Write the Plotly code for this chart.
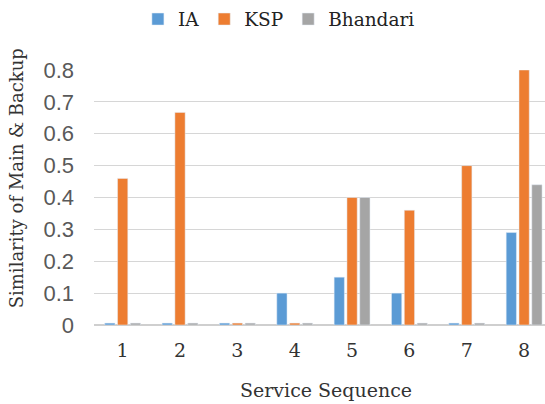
import plotly.graph_objects as go

categories = ["1", "2", "3", "4", "5", "6", "7", "8"]
ia = [0.006, 0.006, 0.006, 0.1, 0.15, 0.1, 0.006, 0.29]
ksp = [0.46, 0.667, 0.006, 0.006, 0.4, 0.36, 0.5, 0.8]
bhandari = [0.006, 0.006, 0.006, 0.006, 0.4, 0.006, 0.006, 0.44]
y_ticks = [0, 0.1, 0.2, 0.3, 0.4, 0.5, 0.6, 0.7, 0.8]
y_tick_text = ["0", "0.1", "0.2", "0.3", "0.4", "0.5", "0.6", "0.7", "0.8"]

serif = "DejaVu Serif"
sans = "Liberation Sans"

fig = go.Figure()
fig.add_trace(go.Bar(name="IA", x=categories, y=ia, marker_color="#5B9BD5"))
fig.add_trace(go.Bar(name="KSP", x=categories, y=ksp, marker_color="#ED7D31"))
fig.add_trace(go.Bar(name="Bhandari", x=categories, y=bhandari, marker_color="#A5A5A5"))

fig.update_layout(
    width=545, height=404,
    margin=dict(l=94, r=0, t=69.5, b=79),
    paper_bgcolor="white", plot_bgcolor="white",
    barmode="group", bargap=0.33, bargroupgap=0.2,
    showlegend=True,
    legend=dict(orientation="h", x=0.41, xanchor="center", y=1.198, yanchor="middle",
                font=dict(family=serif, size=18.5, color="#222222"),
                itemclick=False, traceorder="normal"),
    xaxis=dict(type="category", range=[-0.5, 7.364], showgrid=False,
               showline=False, zeroline=False, ticks="",
               tickfont=dict(family=serif, size=19, color="#333333"),
               ticklabelstandoff=12),
    yaxis=dict(range=[0, 0.8], tickvals=y_ticks, ticktext=y_tick_text,
               showgrid=True, gridcolor="#D6D6D6", gridwidth=1.3,
               zeroline=True, zerolinecolor="#CFCFCF", zerolinewidth=1.5,
               showline=False, ticks="",
               tickfont=dict(family=sans, size=22, color="#595959"),
               ticklabelstandoff=19),
    annotations=[
        dict(text="Service Sequence", xref="paper", yref="paper",
             x=(326 - 94) / 451, y=-(390 - 325) / 255.5, xanchor="center", yanchor="middle",
             showarrow=False, font=dict(family=serif, size=19, color="#333333")),
        dict(text="Similarity of Main & Backup", xref="paper", yref="paper",
             x=-(94 - 16) / 451, y=(325 - 178) / 255.5, xanchor="center", yanchor="middle",
             textangle=-90, showarrow=False,
             font=dict(family=serif, size=18, color="#333333")),
    ],
)

fig.write_html("out.html", config={"displayModeBar": False},
               post_script="document.body.style.margin='0';")
